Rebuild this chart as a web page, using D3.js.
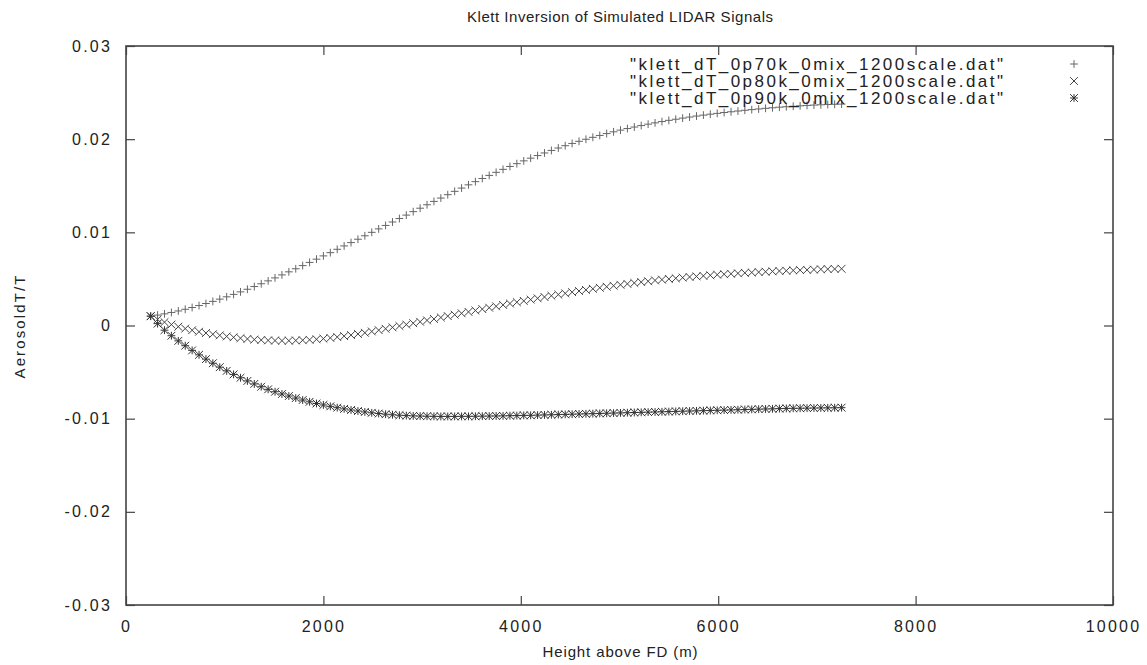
<!DOCTYPE html>
<html>
<head>
<meta charset="utf-8">
<script src="https://cdn.jsdelivr.net/npm/d3@7"></script>
<style>
  html, body { margin: 0; padding: 0; background: #fff; }
  svg { display: block; font-family: "Liberation Sans", Arial, sans-serif; }
</style>
</head>
<body>
<svg id="chart" width="1147" height="665"></svg>
<script>
// Heights above FD (m) of the retrieved profile points
const heights = [
  250, 320, 390, 460, 530, 600, 670, 740, 810, 880,
  950, 1020, 1090, 1160, 1230, 1300, 1370, 1440, 1510, 1580,
  1650, 1720, 1790, 1860, 1930, 2000, 2070, 2140, 2210, 2280,
  2350, 2420, 2490, 2560, 2630, 2700, 2770, 2840, 2910, 2980,
  3050, 3120, 3190, 3260, 3330, 3400, 3470, 3540, 3610, 3680,
  3750, 3820, 3890, 3960, 4030, 4100, 4170, 4240, 4310, 4380,
  4450, 4520, 4590, 4660, 4730, 4800, 4870, 4940, 5010, 5080,
  5150, 5220, 5290, 5360, 5430, 5500, 5570, 5640, 5710, 5780,
  5850, 5920, 5990, 6060, 6130, 6200, 6270, 6340, 6410, 6480,
  6550, 6620, 6690, 6760, 6830, 6900, 6970, 7040, 7110, 7180,
  7250
];

// Aerosol dT/T, 0.70 k
const dT70 = [
  0.00100, 0.00112, 0.00125, 0.00140, 0.00156, 0.00174, 0.00193, 0.00214, 0.00236, 0.00259,
  0.00283, 0.00308, 0.00334, 0.00361, 0.00389, 0.00418, 0.00448, 0.00479, 0.00511, 0.00543,
  0.00576, 0.00609, 0.00643, 0.00677, 0.00712, 0.00747, 0.00782, 0.00818, 0.00854, 0.00890,
  0.00926, 0.00963, 0.01000, 0.01037, 0.01074, 0.01111, 0.01148, 0.01185, 0.01222, 0.01259,
  0.01296, 0.01332, 0.01368, 0.01404, 0.01440, 0.01475, 0.01510, 0.01544, 0.01578, 0.01611,
  0.01644, 0.01676, 0.01707, 0.01737, 0.01767, 0.01796, 0.01824, 0.01852, 0.01879, 0.01905,
  0.01930, 0.01954, 0.01977, 0.01999, 0.02020, 0.02040, 0.02060, 0.02079, 0.02097, 0.02114,
  0.02130, 0.02146, 0.02161, 0.02175, 0.02189, 0.02202, 0.02214, 0.02226, 0.02237, 0.02248,
  0.02258, 0.02268, 0.02277, 0.02286, 0.02294, 0.02302, 0.02310, 0.02317, 0.02324, 0.02331,
  0.02337, 0.02343, 0.02348, 0.02353, 0.02358, 0.02362, 0.02366, 0.02369, 0.02372, 0.02374,
  0.02376
];

// Aerosol dT/T, 0.80 k
const dT80 = [
  0.00100, 0.00066, 0.00036, 0.00010, -0.00013, -0.00033, -0.00051, -0.00067, -0.00081, -0.00094,
  -0.00106, -0.00117, -0.00127, -0.00136, -0.00144, -0.00151, -0.00156, -0.00160, -0.00162, -0.00163,
  -0.00163, -0.00161, -0.00158, -0.00154, -0.00148, -0.00141, -0.00133, -0.00124, -0.00114, -0.00103,
  -0.00091, -0.00078, -0.00064, -0.00050, -0.00035, -0.00020, -0.00005, 0.00010, 0.00025, 0.00040,
  0.00055, 0.00070, 0.00086, 0.00101, 0.00116, 0.00131, 0.00146, 0.00161, 0.00176, 0.00191,
  0.00206, 0.00221, 0.00236, 0.00250, 0.00264, 0.00278, 0.00292, 0.00306, 0.00319, 0.00332,
  0.00345, 0.00358, 0.00370, 0.00382, 0.00394, 0.00405, 0.00416, 0.00427, 0.00437, 0.00447,
  0.00457, 0.00466, 0.00475, 0.00484, 0.00492, 0.00500, 0.00507, 0.00514, 0.00521, 0.00527,
  0.00533, 0.00539, 0.00545, 0.00550, 0.00555, 0.00560, 0.00565, 0.00569, 0.00573, 0.00577,
  0.00581, 0.00585, 0.00588, 0.00591, 0.00594, 0.00597, 0.00600, 0.00603, 0.00605, 0.00607,
  0.00609
];

// Aerosol dT/T, 0.90 k
const dT90 = [
  0.00100, 0.00020, -0.00050, -0.00110, -0.00165, -0.00217, -0.00267, -0.00315, -0.00361, -0.00405,
  -0.00447, -0.00487, -0.00525, -0.00561, -0.00595, -0.00627, -0.00657, -0.00685, -0.00711, -0.00735,
  -0.00757, -0.00779, -0.00800, -0.00819, -0.00837, -0.00853, -0.00868, -0.00882, -0.00895, -0.00907,
  -0.00918, -0.00928, -0.00937, -0.00945, -0.00952, -0.00958, -0.00963, -0.00967, -0.00970, -0.00972,
  -0.00974, -0.00975, -0.00976, -0.00976, -0.00976, -0.00975, -0.00975, -0.00974, -0.00973, -0.00972,
  -0.00971, -0.00970, -0.00968, -0.00967, -0.00965, -0.00964, -0.00962, -0.00960, -0.00958, -0.00956,
  -0.00954, -0.00952, -0.00950, -0.00948, -0.00946, -0.00944, -0.00942, -0.00940, -0.00938, -0.00936,
  -0.00934, -0.00932, -0.00930, -0.00928, -0.00926, -0.00924, -0.00922, -0.00920, -0.00918, -0.00916,
  -0.00914, -0.00912, -0.00910, -0.00908, -0.00906, -0.00904, -0.00902, -0.00900, -0.00898, -0.00896,
  -0.00894, -0.00892, -0.00890, -0.00889, -0.00888, -0.00887, -0.00886, -0.00885, -0.00884, -0.00883,
  -0.00882
];

const seriesNames = [
  "\"klett_dT_0p70k_0mix_1200scale.dat\"",
  "\"klett_dT_0p80k_0mix_1200scale.dat\"",
  "\"klett_dT_0p90k_0mix_1200scale.dat\""
];
const xTicks = [0, 2000, 4000, 6000, 8000, 10000];
const yTicks = [-0.03, -0.02, -0.01, 0, 0.01, 0.02, 0.03];

const titleText = "Klett Inversion of Simulated LIDAR Signals";
const xLabel = "Height above FD (m)";
const yLabel = "AerosoldT/T";

// ---- layout ----
const svg = d3.select("#chart");
const plotLeft = 126, plotRight = 1113, plotTop = 46, plotBottom = 605;

const x = d3.scaleLinear().domain([0, 10000]).range([plotLeft, plotRight]);
const y = d3.scaleLinear().domain([-0.03, 0.03]).range([plotBottom, plotTop]);

const axisColor = "#444";
const textColor = "#222";
const tickLen = 9;

// frame
svg.append("rect")
  .attr("x", plotLeft).attr("y", plotTop)
  .attr("width", plotRight - plotLeft).attr("height", plotBottom - plotTop)
  .attr("fill", "none").attr("stroke", axisColor).attr("stroke-width", 1.6);

const yFmt = d => d === 0 ? "0" : d3.format(".2f")(d).replace("\u2212", "-");

function styleAxis(g, showText) {
  g.select(".domain").remove();
  g.selectAll(".tick line").attr("stroke", axisColor).attr("stroke-width", 1.2);
  if (showText) {
    g.selectAll(".tick text")
      .attr("fill", textColor)
      .style("font-size", "16px")
      .style("letter-spacing", "2.2px");
  } else {
    g.selectAll(".tick text").remove();
  }
}

svg.append("g").attr("transform", `translate(0,${plotBottom})`)
  .call(d3.axisBottom(x).tickValues(xTicks).tickSizeInner(-tickLen).tickSizeOuter(0).tickPadding(16).tickFormat(d3.format("d")))
  .call(g => styleAxis(g, true));
svg.append("g").attr("transform", `translate(0,${plotTop})`)
  .call(d3.axisTop(x).tickValues(xTicks).tickSizeInner(-tickLen).tickSizeOuter(0))
  .call(g => styleAxis(g, false));
svg.append("g").attr("transform", `translate(${plotLeft},0)`)
  .call(d3.axisLeft(y).tickValues(yTicks).tickSizeInner(-tickLen).tickSizeOuter(0).tickPadding(14).tickFormat(yFmt))
  .call(g => styleAxis(g, true));
svg.append("g").attr("transform", `translate(${plotRight},0)`)
  .call(d3.axisRight(y).tickValues(yTicks).tickSizeInner(-tickLen).tickSizeOuter(0))
  .call(g => styleAxis(g, false));

// titles
svg.append("text").attr("x", 620).attr("y", 22).attr("text-anchor", "middle")
  .attr("fill", textColor).style("font-size", "15px")
  .attr("textLength", 306).attr("lengthAdjust", "spacing").text(titleText);
svg.append("text").attr("x", 620).attr("y", 657).attr("text-anchor", "middle")
  .attr("fill", textColor).style("font-size", "15px")
  .attr("textLength", 155).attr("lengthAdjust", "spacing").text(xLabel);
svg.append("text").attr("transform", "translate(25,327) rotate(-90)").attr("text-anchor", "middle")
  .attr("fill", textColor).style("font-size", "15px")
  .attr("textLength", 103).attr("lengthAdjust", "spacing").text(yLabel);

// point markers
const mr = 3.9;
const markers = {
  plus: `M${-mr},0H${mr}M0,${-mr}V${mr}`,
  cross: `M${-mr},${-mr}L${mr},${mr}M${-mr},${mr}L${mr},${-mr}`,
  star: `M${-mr},0H${mr}M0,${-mr}V${mr}M${-mr},${-mr}L${mr},${mr}M${-mr},${mr}L${mr},${-mr}`
};

const series = [
  { name: seriesNames[0], values: dT70, marker: markers.plus, color: "#666" },
  { name: seriesNames[1], values: dT80, marker: markers.cross, color: "#444" },
  { name: seriesNames[2], values: dT90, marker: markers.star, color: "#333" }
];

series.forEach(s => {
  svg.append("g")
    .selectAll("path")
    .data(heights.map((h, i) => [h, s.values[i]]))
    .join("path")
    .attr("transform", d => `translate(${x(d[0])},${y(d[1])})`)
    .attr("d", s.marker)
    .attr("fill", "none")
    .attr("stroke", s.color)
    .attr("stroke-width", 1);
});

// key
const key = svg.append("g");
series.forEach((s, i) => {
  const ky = 64 + i * 17;
  key.append("text").attr("x", 1003).attr("y", ky + 6).attr("text-anchor", "end")
    .attr("fill", textColor).style("font-size", "17px")
    .attr("textLength", 373).attr("lengthAdjust", "spacing").text(s.name);
  key.append("path").attr("transform", `translate(1074,${ky})`)
    .attr("d", s.marker).attr("fill", "none").attr("stroke", s.color).attr("stroke-width", 1);
});
</script>
</body>
</html>
